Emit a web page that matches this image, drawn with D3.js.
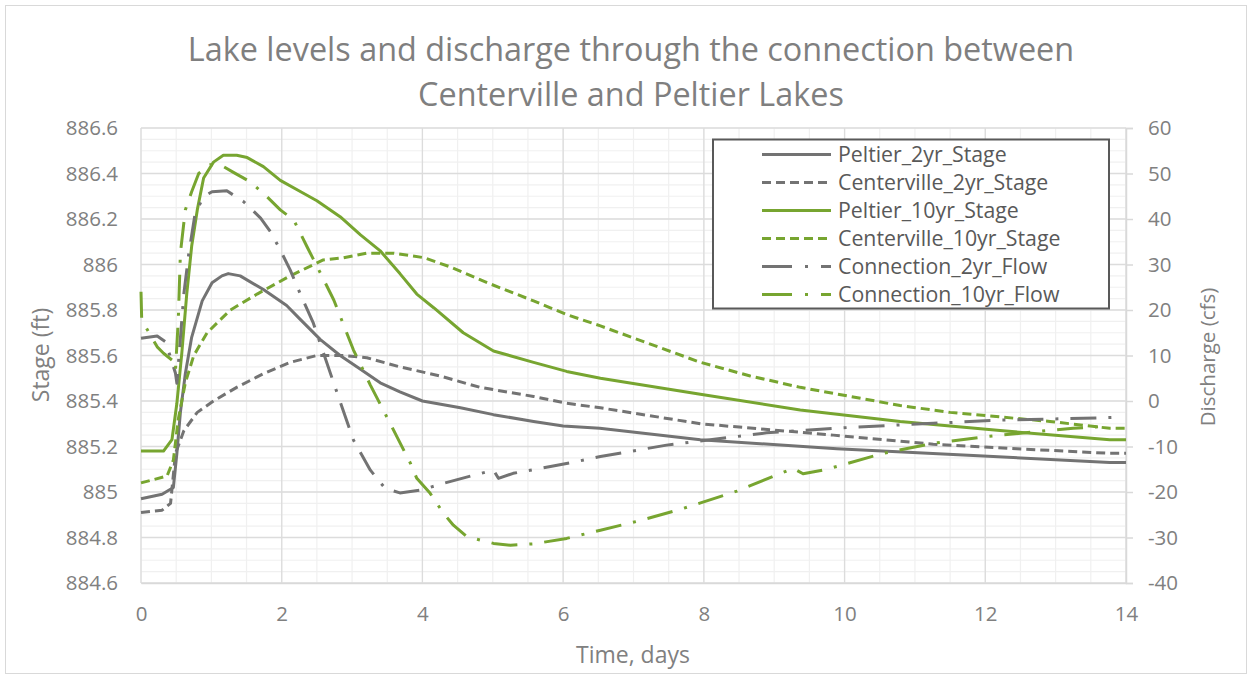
<!DOCTYPE html>
<html>
<head>
<meta charset="utf-8">
<script src="https://cdn.jsdelivr.net/npm/d3@7"></script>
<style>
  body { margin: 0; background: #fff; }
  svg { display: block; font-family: "Open Sans", sans-serif; }
</style>
</head>
<body>
<div id="chart"></div>
<script>
// values (days, stage in ft, flow in cfs)
const peltier2Days = [0, 0.3, 0.46, 0.51, 0.56, 0.63, 0.72, 0.87, 1.01, 1.15, 1.24, 1.41, 1.74, 2.07, 2.26, 2.55, 2.83, 3.12, 3.4, 3.68, 4.0, 4.54, 5.01, 5.58, 6.0, 6.52, 7.95, 9.89, 11.83, 13.77, 14];
const peltier2Stage = [884.97, 884.99, 885.02, 885.17, 885.35, 885.52, 885.68, 885.84, 885.92, 885.95, 885.96, 885.95, 885.89, 885.82, 885.76, 885.67, 885.6, 885.54, 885.48, 885.44, 885.4, 885.37, 885.34, 885.31, 885.29, 885.28, 885.23, 885.19, 885.16, 885.13, 885.13];

const center2Days = [0, 0.3, 0.42, 0.49, 0.61, 0.8, 1.03, 1.36, 1.74, 2.12, 2.5, 2.88, 3.21, 3.68, 4.25, 4.82, 5.58, 6.05, 6.53, 7.95, 9.84, 11.26, 12.45, 13.77, 14];
const center2Stage = [884.91, 884.92, 884.95, 885.17, 885.27, 885.35, 885.4, 885.46, 885.52, 885.57, 885.6, 885.6, 885.59, 885.55, 885.51, 885.46, 885.42, 885.39, 885.37, 885.3, 885.25, 885.21, 885.19, 885.17, 885.17];

const peltier10Days = [0, 0.32, 0.44, 0.51, 0.58, 0.65, 0.72, 0.8, 0.89, 1.03, 1.17, 1.36, 1.51, 1.74, 1.98, 2.27, 2.5, 2.83, 3.12, 3.4, 3.68, 3.92, 4.16, 4.58, 5.01, 5.58, 6.05, 6.53, 7.95, 9.37, 10.79, 12.21, 13.77, 14];
const peltier10Stage = [885.18, 885.18, 885.23, 885.39, 885.61, 885.87, 886.08, 886.24, 886.38, 886.45, 886.48, 886.48, 886.47, 886.43, 886.37, 886.32, 886.28, 886.21, 886.13, 886.06, 885.96, 885.87, 885.81, 885.7, 885.62, 885.57, 885.53, 885.5, 885.43, 885.36, 885.31, 885.27, 885.23, 885.23];

const center10Days = [0, 0.37, 0.46, 0.53, 0.63, 0.75, 0.94, 1.27, 1.65, 2.12, 2.59, 2.88, 3.21, 3.59, 4.02, 4.39, 4.92, 5.58, 6.05, 6.53, 7.24, 7.95, 8.66, 9.37, 10.08, 10.79, 11.5, 12.21, 12.92, 13.77, 14];
const center10Stage = [885.04, 885.07, 885.14, 885.32, 885.48, 885.6, 885.7, 885.8, 885.87, 885.95, 886.02, 886.03, 886.05, 886.05, 886.03, 885.99, 885.92, 885.84, 885.78, 885.73, 885.65, 885.57, 885.51, 885.46, 885.42, 885.38, 885.35, 885.33, 885.31, 885.28, 885.28];

const conn2Days = [0, 0.23, 0.35, 0.49, 0.51, 0.61, 0.68, 0.77, 0.89, 1.01, 1.22, 1.46, 1.7, 1.84, 1.98, 2.12, 2.26, 2.45, 2.74, 3.02, 3.26, 3.47, 3.68, 3.97, 4.3, 4.73, 5.01, 5.08, 5.29, 5.82, 6.19, 6.53, 7.47, 8.42, 8.89, 10.08, 11.26, 12.21, 13.39, 13.81];
const conn2Flow = [13.8, 14.3, 13.0, 6.1, 3.9, 23.7, 32.5, 41.3, 44.9, 46.0, 46.2, 43.8, 40.2, 37.2, 33.2, 28.8, 23.7, 17.1, 3.9, -8.6, -15.2, -19.2, -20.2, -19.6, -18.1, -16.3, -15.2, -17.0, -15.9, -14.4, -13.3, -12.2, -9.7, -7.9, -7.0, -5.8, -4.9, -4.2, -3.8, -3.6];

const conn10Days = [0, 0.01, 0.23, 0.32, 0.44, 0.49, 0.53, 0.56, 0.63, 0.72, 0.82, 0.98, 1.13, 1.32, 1.55, 1.79, 1.98, 2.17, 2.36, 2.55, 2.74, 3.02, 3.26, 3.54, 3.83, 3.92, 4.11, 4.3, 4.44, 4.63, 5.01, 5.25, 5.58, 6.05, 6.53, 7.09, 7.71, 8.47, 9.27, 9.41, 9.75, 10.55, 11.26, 11.97, 12.68, 13.25, 13.77];
const conn10Flow = [24.0, 17.8, 11.9, 10.5, 9.0, 6.8, 17.8, 32.5, 42.0, 46.0, 50.0, 51.9, 51.9, 50.2, 48.2, 44.9, 42.0, 39.8, 33.9, 28.1, 22.2, 11.2, 3.5, -4.9, -13.7, -17.0, -20.3, -24.7, -27.3, -29.8, -31.3, -31.7, -31.4, -30.2, -28.4, -26.3, -23.6, -19.8, -14.8, -16.0, -15.0, -11.5, -9.3, -7.9, -6.8, -6.0, -5.5];

const dayTicks = [0, 2, 4, 6, 8, 10, 12, 14];
const stageTicks = [884.6, 884.8, 885, 885.2, 885.4, 885.6, 885.8, 886, 886.2, 886.4, 886.6];
const flowTicks = [-40, -30, -20, -10, 0, 10, 20, 30, 40, 50, 60];

const gray = "#737373";
const green = "#77a530";
const dashed = "9,5";
const dashDot = "26,12,3,12";

const series = [
  { name: "Peltier_2yr_Stage", days: peltier2Days, vals: peltier2Stage, axis: "stage", color: gray, dash: null },
  { name: "Centerville_2yr_Stage", days: center2Days, vals: center2Stage, axis: "stage", color: gray, dash: dashed },
  { name: "Peltier_10yr_Stage", days: peltier10Days, vals: peltier10Stage, axis: "stage", color: green, dash: null },
  { name: "Centerville_10yr_Stage", days: center10Days, vals: center10Stage, axis: "stage", color: green, dash: dashed },
  { name: "Connection_2yr_Flow", days: conn2Days, vals: conn2Flow, axis: "flow", color: gray, dash: dashDot },
  { name: "Connection_10yr_Flow", days: conn10Days, vals: conn10Flow, axis: "flow", color: green, dash: dashDot }
];

const width = 1252;
const height = 679;
const plot = { left: 141, right: 1126, top: 128, bottom: 583 };

const svg = d3.select("#chart")
  .append("svg")
  .attr("width", width)
  .attr("height", height);

svg.append("rect")
  .attr("x", 5.5).attr("y", 5.5)
  .attr("width", width - 11).attr("height", height - 11)
  .attr("fill", "#fff")
  .attr("stroke", "#d9d9d9");

const x = d3.scaleLinear().domain([0, 14]).range([plot.left, plot.right]);
const yStage = d3.scaleLinear().domain([884.6, 886.6]).range([plot.bottom, plot.top]);
const yFlow = d3.scaleLinear().domain([-40, 60]).range([plot.bottom, plot.top]);

// gridlines: minor first, then major on top
const grid = svg.append("g");
grid.selectAll(".vminor")
  .data(d3.range(0, 14.01, 0.5))
  .join("line")
  .attr("x1", (d) => x(d)).attr("x2", (d) => x(d))
  .attr("y1", plot.top).attr("y2", plot.bottom)
  .attr("stroke", "#f0f0f0").attr("stroke-width", 1.2);
grid.selectAll(".hminor")
  .data(d3.range(0, 41).map((i) => 884.6 + i * 0.05))
  .join("line")
  .attr("x1", plot.left).attr("x2", plot.right)
  .attr("y1", (d) => yStage(d)).attr("y2", (d) => yStage(d))
  .attr("stroke", "#f0f0f0").attr("stroke-width", 1.2);
grid.selectAll(".vmajor")
  .data(dayTicks)
  .join("line")
  .attr("x1", (d) => x(d)).attr("x2", (d) => x(d))
  .attr("y1", plot.top).attr("y2", plot.bottom)
  .attr("stroke", "#dcdcdc").attr("stroke-width", 1.3);
grid.selectAll(".hmajor")
  .data(stageTicks)
  .join("line")
  .attr("x1", plot.left).attr("x2", plot.right)
  .attr("y1", (d) => yStage(d)).attr("y2", (d) => yStage(d))
  .attr("stroke", "#dcdcdc").attr("stroke-width", 1.3);

// axes
const tickColor = "#808080";
const fmt = (d) => String(+d.toFixed(1));

const xAxis = svg.append("g")
  .attr("transform", `translate(0,${plot.bottom})`)
  .call(d3.axisBottom(x).tickValues(dayTicks).tickSize(0).tickPadding(23).tickFormat(fmt));

const leftAxis = svg.append("g")
  .attr("transform", `translate(${plot.left},0)`)
  .call(d3.axisLeft(yStage).tickValues(stageTicks).tickSize(0).tickPadding(23).tickFormat(fmt));

const rightAxis = svg.append("g")
  .attr("transform", `translate(${plot.right},0)`)
  .call(d3.axisRight(yFlow).tickValues(flowTicks).tickSize(7).tickPadding(15).tickFormat(fmt));

[xAxis, leftAxis, rightAxis].forEach((a) => {
  a.selectAll(".domain").attr("stroke", "#d9d9d9").attr("stroke-width", 1.5);
  a.selectAll(".tick line").attr("stroke", "#d9d9d9").attr("stroke-width", 1.5);
  a.selectAll("text")
    .attr("fill", tickColor)
    .style("font-size", "20.5px")
    .style("font-family", "'Open Sans', sans-serif");
});
leftAxis.select(".domain").remove();

// series lines
const plotArea = svg.append("g");
series.forEach((s) => {
  const yScale = s.axis === "stage" ? yStage : yFlow;
  const line = d3.line()
    .x((d) => x(d[0]))
    .y((d) => yScale(d[1]));
  plotArea.append("path")
    .datum(d3.zip(s.days, s.vals))
    .attr("d", line)
    .attr("fill", "none")
    .attr("stroke", s.color)
    .attr("stroke-width", 3)
    .attr("stroke-linejoin", "round")
    .attr("stroke-dasharray", s.dash);
});

// titles
const title = svg.append("text")
  .attr("x", 633)
  .attr("text-anchor", "middle")
  .attr("fill", "#7f7f7f")
  .style("font-size", "32.4px");
title.append("tspan").attr("x", 631).attr("y", 61)
  .text("Lake levels and discharge through the connection between");
title.append("tspan").attr("x", 631).attr("y", 106)
  .text("Centerville and Peltier Lakes");

svg.append("text")
  .attr("transform", "translate(49,355) rotate(-90)")
  .attr("text-anchor", "middle")
  .attr("fill", tickColor)
  .style("font-size", "23px")
  .text("Stage (ft)");

svg.append("text")
  .attr("transform", "translate(1215,357) rotate(-90)")
  .attr("text-anchor", "middle")
  .attr("fill", tickColor)
  .style("font-size", "20.5px")
  .text("Discharge (cfs)");

svg.append("text")
  .attr("x", 633).attr("y", 663)
  .attr("text-anchor", "middle")
  .attr("fill", tickColor)
  .style("font-size", "23px")
  .text("Time, days");

// legend
const legend = svg.append("g");
legend.append("rect")
  .attr("x", 713).attr("y", 139.5)
  .attr("width", 396).attr("height", 169)
  .attr("fill", "#fff")
  .attr("stroke", "#595959")
  .attr("stroke-width", 2);

const rows = legend.selectAll("g.row")
  .data(series)
  .join("g")
  .attr("transform", (d, i) => `translate(0,${154.5 + i * 28})`);
rows.append("line")
  .attr("x1", 762).attr("x2", 831)
  .attr("stroke", (d) => d.color)
  .attr("stroke-width", 3)
  .attr("stroke-dasharray", (d) => (d.dash === dashDot ? "30,13,3,13" : d.dash));
rows.append("text")
  .attr("x", 838)
  .attr("dy", "0.35em")
  .attr("fill", "#595959")
  .style("font-size", "21.3px")
  .text((d) => d.name);
</script>
</body>
</html>
